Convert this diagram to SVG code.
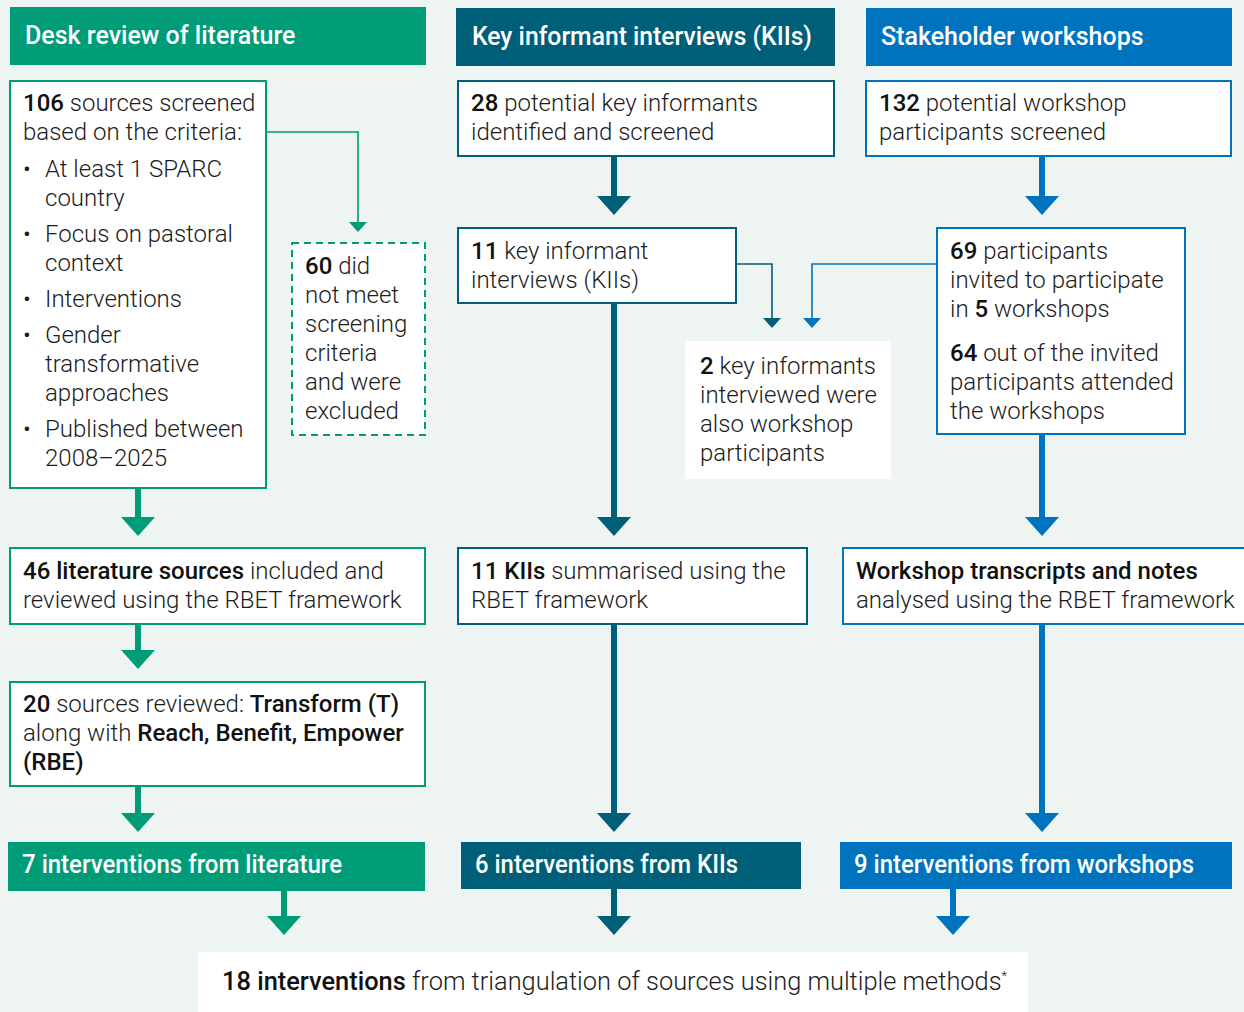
<svg xmlns="http://www.w3.org/2000/svg" width="1244" height="1012" viewBox="0 0 1244 1012">
<defs>
<style>
.t{font-family:Roboto,"Liberation Sans",sans-serif;font-weight:300;font-size:24px;fill:#1c1c1c}
.b{font-weight:500;fill:#111}
.h{font-family:Roboto,"Liberation Sans",sans-serif;font-weight:500;font-size:25px;fill:#fff}
.g{stroke:#009b77}
.k{stroke:#005f78}
.u{stroke:#0073bf}
.box{fill:#fff;stroke-width:2}
.thin{fill:none;stroke-width:1.6}
.shaft{stroke-width:6;fill:none}
</style>
</defs>
<rect width="1244" height="1012" fill="#eef4f2"/>

<g id="connectors">
<!-- green -->
<path class="thin g" d="M266 132H358V224"/>
<polygon points="349,222 367,222 358,232" fill="#009b77"/>
<line class="shaft g" x1="138" y1="488" x2="138" y2="520"/>
<polygon points="121,517 155,517 138,536" fill="#009b77"/>
<line class="shaft g" x1="138" y1="624" x2="138" y2="653"/>
<polygon points="121,650 155,650 138,669" fill="#009b77"/>
<line class="shaft g" x1="138" y1="786" x2="138" y2="816"/>
<polygon points="121,813 155,813 138,832" fill="#009b77"/>
<line class="shaft g" x1="284" y1="891" x2="284" y2="919"/>
<polygon points="267,916 301,916 284,935" fill="#009b77"/>
<!-- teal -->
<line class="shaft k" x1="614" y1="156" x2="614" y2="199"/>
<polygon points="597,196 631,196 614,215" fill="#005f78"/>
<line class="shaft k" x1="614" y1="303" x2="614" y2="520"/>
<polygon points="597,517 631,517 614,536" fill="#005f78"/>
<line class="shaft k" x1="614" y1="624" x2="614" y2="816"/>
<polygon points="597,813 631,813 614,832" fill="#005f78"/>
<line class="shaft k" x1="614" y1="889" x2="614" y2="919"/>
<polygon points="597,916 631,916 614,935" fill="#005f78"/>
<path class="thin k" d="M736 264H772V320"/>
<polygon points="763,318 781,318 772,328" fill="#005f78"/>
<!-- blue -->
<line class="shaft u" x1="1042" y1="156" x2="1042" y2="199"/>
<polygon points="1025,196 1059,196 1042,215" fill="#0073bf"/>
<line class="shaft u" x1="1042" y1="434" x2="1042" y2="520"/>
<polygon points="1025,517 1059,517 1042,536" fill="#0073bf"/>
<line class="shaft u" x1="1042" y1="624" x2="1042" y2="816"/>
<polygon points="1025,813 1059,813 1042,832" fill="#0073bf"/>
<line class="shaft u" x1="953" y1="889" x2="953" y2="919"/>
<polygon points="936,916 970,916 953,935" fill="#0073bf"/>
<path class="thin u" d="M937 264H812V320"/>
<polygon points="803,318 821,318 812,328" fill="#0073bf"/>
</g>

<g id="hdr-desk">
<rect x="10" y="7" width="416" height="58" fill="#009b77"/>
<text class="h" x="25" y="44">Desk review of literature</text>
</g>
<g id="hdr-kii">
<rect x="456" y="8" width="379" height="58" fill="#005f78"/>
<text class="h" x="472" y="45" textLength="340" lengthAdjust="spacingAndGlyphs">Key informant interviews (KIIs)</text>
</g>
<g id="hdr-ws">
<rect x="866" y="8" width="366" height="58" fill="#0073bf"/>
<text class="h" x="881" y="45">Stakeholder workshops</text>
</g>

<g id="n-106">
<rect class="box g" x="10" y="81" width="256" height="407"/>
<text class="t" x="23" y="111"><tspan class="b">106</tspan> sources screened</text>
<text class="t" x="23" y="140">based on the criteria:</text>
<text class="t" x="23" y="177">•</text><text class="t" x="45" y="177">At least 1 SPARC</text>
<text class="t" x="45" y="206">country</text>
<text class="t" x="23" y="242">•</text><text class="t" x="45" y="242">Focus on pastoral</text>
<text class="t" x="45" y="271">context</text>
<text class="t" x="23" y="307">•</text><text class="t" x="45" y="307">Interventions</text>
<text class="t" x="23" y="343">•</text><text class="t" x="45" y="343">Gender</text>
<text class="t" x="45" y="372">transformative</text>
<text class="t" x="45" y="401">approaches</text>
<text class="t" x="23" y="437">•</text><text class="t" x="45" y="437">Published between</text>
<text class="t" x="45" y="466">2008–2025</text>
</g>

<g id="n-60">
<rect x="292" y="243" width="133" height="192" fill="#fff" stroke="#009b77" stroke-width="2" stroke-dasharray="7,5"/>
<text class="t" x="305" y="274"><tspan class="b">60</tspan> did</text>
<text class="t" x="305" y="303">not meet</text>
<text class="t" x="305" y="332">screening</text>
<text class="t" x="305" y="361">criteria</text>
<text class="t" x="305" y="390">and were</text>
<text class="t" x="305" y="419">excluded</text>
</g>

<g id="n-46">
<rect class="box g" x="10" y="548" width="415" height="76"/>
<text class="t" x="23" y="579"><tspan class="b">46 literature sources</tspan> included and</text>
<text class="t" x="23" y="608">reviewed using the RBET framework</text>
</g>

<g id="n-20">
<rect class="box g" x="10" y="682" width="415" height="104"/>
<text class="t" x="23" y="712"><tspan class="b">20</tspan> sources reviewed: <tspan class="b">Transform (T)</tspan></text>
<text class="t" x="23" y="741">along with <tspan class="b">Reach, Benefit, Empower</tspan></text>
<text class="t b" x="23" y="770">(RBE)</text>
</g>

<g id="n-7">
<rect x="8" y="842" width="417" height="49" fill="#009b77"/>
<text class="h" x="22" y="873" textLength="320" lengthAdjust="spacingAndGlyphs">7 interventions from literature</text>
</g>

<g id="n-28">
<rect class="box k" x="458" y="81" width="376" height="75"/>
<text class="t" x="471" y="111"><tspan class="b">28</tspan> potential key informants</text>
<text class="t" x="471" y="140">identified and screened</text>
</g>

<g id="n-11">
<rect class="box k" x="458" y="228" width="278" height="75"/>
<text class="t" x="471" y="259"><tspan class="b">11</tspan> key informant</text>
<text class="t" x="471" y="288">interviews (KIIs)</text>
</g>

<g id="n-2">
<rect x="685" y="341" width="206" height="138" fill="#fff"/>
<text class="t" x="700" y="374"><tspan class="b">2</tspan> key informants</text>
<text class="t" x="700" y="403">interviewed were</text>
<text class="t" x="700" y="432">also workshop</text>
<text class="t" x="700" y="461">participants</text>
</g>

<g id="n-11k">
<rect class="box k" x="458" y="548" width="349" height="76"/>
<text class="t" x="471" y="579"><tspan class="b">11 KIIs</tspan> summarised using the</text>
<text class="t" x="471" y="608">RBET framework</text>
</g>

<g id="n-6">
<rect x="461" y="842" width="340" height="47" fill="#005f78"/>
<text class="h" x="475" y="873" textLength="263" lengthAdjust="spacingAndGlyphs">6 interventions from KIIs</text>
</g>

<g id="n-132">
<rect class="box u" x="866" y="81" width="365" height="75"/>
<text class="t" x="879" y="111"><tspan class="b">132</tspan> potential workshop</text>
<text class="t" x="879" y="140">participants screened</text>
</g>

<g id="n-69">
<rect class="box u" x="937" y="228" width="248" height="206"/>
<text class="t" x="950" y="259"><tspan class="b">69</tspan> participants</text>
<text class="t" x="950" y="288">invited to participate</text>
<text class="t" x="950" y="317">in <tspan class="b">5</tspan> workshops</text>
<text class="t" x="950" y="361"><tspan class="b">64</tspan> out of the invited</text>
<text class="t" x="950" y="390">participants attended</text>
<text class="t" x="950" y="419">the workshops</text>
</g>

<g id="n-wt">
<rect class="box u" x="843" y="548" width="403" height="76"/>
<text class="t" x="856" y="579"><tspan class="b">Workshop transcripts and notes</tspan></text>
<text class="t" x="856" y="608">analysed using the RBET framework</text>
</g>

<g id="n-9">
<rect x="840" y="842" width="392" height="47" fill="#0073bf"/>
<text class="h" x="854" y="873" textLength="340" lengthAdjust="spacingAndGlyphs">9 interventions from workshops</text>
</g>

<g id="n-18">
<rect x="198" y="952" width="830" height="60" fill="#fff"/>
<text class="t" x="222" y="990" style="font-size:25.4px"><tspan class="b">18 interventions</tspan> from triangulation of sources using multiple methods<tspan font-size="13" dy="-10">*</tspan></text>
</g>
</svg>
